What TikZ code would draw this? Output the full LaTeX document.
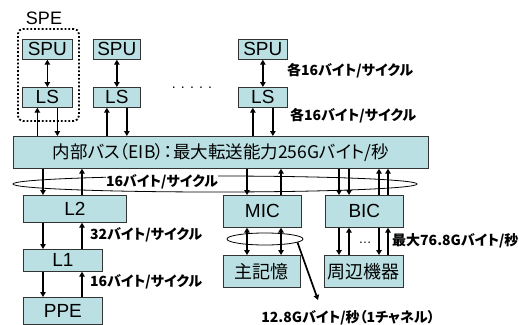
\documentclass[tikz,border=0pt]{standalone}
\usepackage{fontspec}
\setmainfont{Liberation Sans}
\newfontfamily\jp[RawFeature=+palt]{Noto Sans CJK JP}
\usetikzlibrary{arrows.meta,shapes.geometric}
\definecolor{boxfill}{RGB}{187,224,227}
\tikzset{
  box/.style={draw=black!80, line width=0.7pt, fill=boxfill, inner sep=0pt, anchor=north west, font=\fontsize{19}{19}\selectfont},
  jbox/.style={box, font=\jp\fontsize{18}{18}\selectfont},
  arr/.style={-{Triangle[length=5pt,width=5.5pt]}, line width=1.7pt},
  darr/.style={{Triangle[length=5pt,width=5.5pt]}-{Triangle[length=5pt,width=5.5pt]}, line width=1.7pt},
  lbl/.style={font=\jp\bfseries\fontsize{14}{14}\selectfont, inner sep=0pt},
  ell/.style={draw=black, line width=0.8pt, ellipse, inner sep=0pt}
}
\begin{document}
\begin{tikzpicture}[x=1pt,y=-1pt]
\useasboundingbox (0,0) rectangle (519,324);
% SPE group
\node[font=\fontsize{18}{18}\selectfont, inner sep=0pt] (spe) at (44,18) {SPE};
\node[draw, dotted, line width=1.8pt, rounded corners=5pt, minimum width=61pt, minimum height=92pt, anchor=north west, inner sep=0pt] (speb) at (17,28) {};
% SPUs and LSs
\node[box, minimum width=50pt, minimum height=20pt] (spu1) at (22,39) {SPU};
\node[box, minimum width=50pt, minimum height=20pt] (ls1) at (22,87) {LS};
\node[box, minimum width=47pt, minimum height=20pt] (spu2) at (93,39) {SPU};
\node[box, minimum width=47pt, minimum height=20pt] (ls2) at (93,87) {LS};
\node[box, minimum width=49pt, minimum height=20pt] (spu3) at (238,39) {SPU};
\node[box, minimum width=49pt, minimum height=20pt] (ls3) at (238,87) {LS};
\node[font=\fontsize{14}{14}\selectfont, inner sep=0pt, anchor=base] (dots) at (192,88) {. . . . .};
% bus
\node[jbox, minimum width=415pt, minimum height=32pt, font=\jp\fontsize{17.5}{17.5}\selectfont] (bus) at (13,136) {内部バス（EIB）：最大転送能力256Gバイト/秒};
% ellipse
\node[ell, minimum width=404pt, minimum height=16pt] (bigell) at (215,184) {};
\node[lbl, fill=white, inner sep=0.5pt] (l16) at (162,182) {16バイト/サイクル};
% lower boxes
\node[box, minimum width=103pt, minimum height=27pt] (l2) at (23,195) {L2};
\node[box, minimum width=79pt, minimum height=22pt] (l1) at (23,249) {L1};
\node[box, minimum width=79pt, minimum height=27pt] (ppe) at (23,297) {PPE};
\node[box, minimum width=78pt, minimum height=32pt] (mic) at (223,195) {MIC};
\node[box, minimum width=78pt, minimum height=32pt] (bic) at (325,195) {BIC};
\node[jbox, minimum width=77pt, minimum height=32pt] (mem) at (223,255) {主記憶};
\node[jbox, minimum width=79pt, minimum height=32pt] (per) at (324,255) {周辺機器};
% labels
\node[lbl, anchor=west] (lab1) at (287,71) {各16バイト/サイクル};
\node[lbl, anchor=west] (lab2) at (290,116) {各16バイト/サイクル};
\node[lbl, anchor=west] (lab3) at (90,235) {32バイト/サイクル};
\node[lbl, anchor=west] (lab4) at (90,282) {16バイト/サイクル};
\node[lbl, anchor=west] (lab5) at (392,241) {最大76.8Gバイト/秒};
\node[lbl] (lab6) at (348,318) {12.8Gバイト/秒（1チャネル）};
\node[font=\fontsize{13}{13}\selectfont, inner sep=0pt] (edots) at (365,243) {…};
% SPU-LS
\draw[darr] (spu1) -- (ls1);
\draw[darr] (spu2) -- (ls2);
\draw[darr] (spu3) -- (ls3);
% LS-bus
\path (ls1.south) ++(-10,0) coordinate (a1) ++(20,0) coordinate (b1);
\path (ls2.south) ++(-10,0) coordinate (a2) ++(20,0) coordinate (b2);
\path (ls3.south) ++(-10,0) coordinate (a3) ++(20,0) coordinate (b3);
\foreach \i in {1,2,3}{
  \draw[arr] (a\i |- bus.north) -- (a\i);
  \draw[arr] (b\i) -- (b\i |- bus.north);
}
% bus - L2 - L1 - PPE
\path (l2.south west) ++(20,0) coordinate (c1) ++(39,0) coordinate (c2);
\draw[arr] (c1 |- bus.south) -- (c1 |- l2.north);
\draw[arr] (c2 |- l2.north) -- (c2 |- bus.south);
\draw[arr] (c1 |- l2.south) -- (c1 |- l1.north);
\draw[arr] (c2 |- l1.north) -- (c2 |- l2.south);
\draw[arr] (c1 |- l1.south) -- (c1 |- ppe.north);
\draw[arr] (c2 |- ppe.north) -- (c2 |- l1.south);
% MIC
\node[ell, minimum width=76pt, minimum height=12pt] (mell) at (265,239) {};
\path (mic.south west) ++(24,0) coordinate (m1) ++(34,0) coordinate (m2);
\draw[arr] (m1 |- bus.south) -- (m1 |- mic.north);
\draw[arr] (m2 |- mic.north) -- (m2 |- bus.south);
\draw[darr] (m1 |- mic.south) -- (m1 |- mem.north);
\draw[darr] (m2 |- mic.south) -- (m2 |- mem.north);
\coordinate (tip) at (318,300);
\draw[arr] (mell.-6) -- (tip);
% BIC
\path (bic.south west) ++(14,0) coordinate (d1) ++(10,0) coordinate (d2) ++(30,0) coordinate (d3) ++(9,0) coordinate (d4);
\draw[arr] (d1 |- bus.south) -- (d1 |- bic.north);
\draw[arr] (d2 |- bus.south) -- (d2 |- bic.north);
\draw[arr] (d3 |- bic.north) -- (d3 |- bus.south);
\draw[arr] (d4 |- bic.north) -- (d4 |- bus.south);
\draw[arr] (d1 |- bic.south) -- (d1 |- per.north);
\draw[arr] (d2 |- per.north) -- (d2 |- bic.south);
\draw[arr] (d3 |- bic.south) -- (d3 |- per.north);
\draw[arr] (d4 |- per.north) -- (d4 |- bic.south);
\end{tikzpicture}
\end{document}
